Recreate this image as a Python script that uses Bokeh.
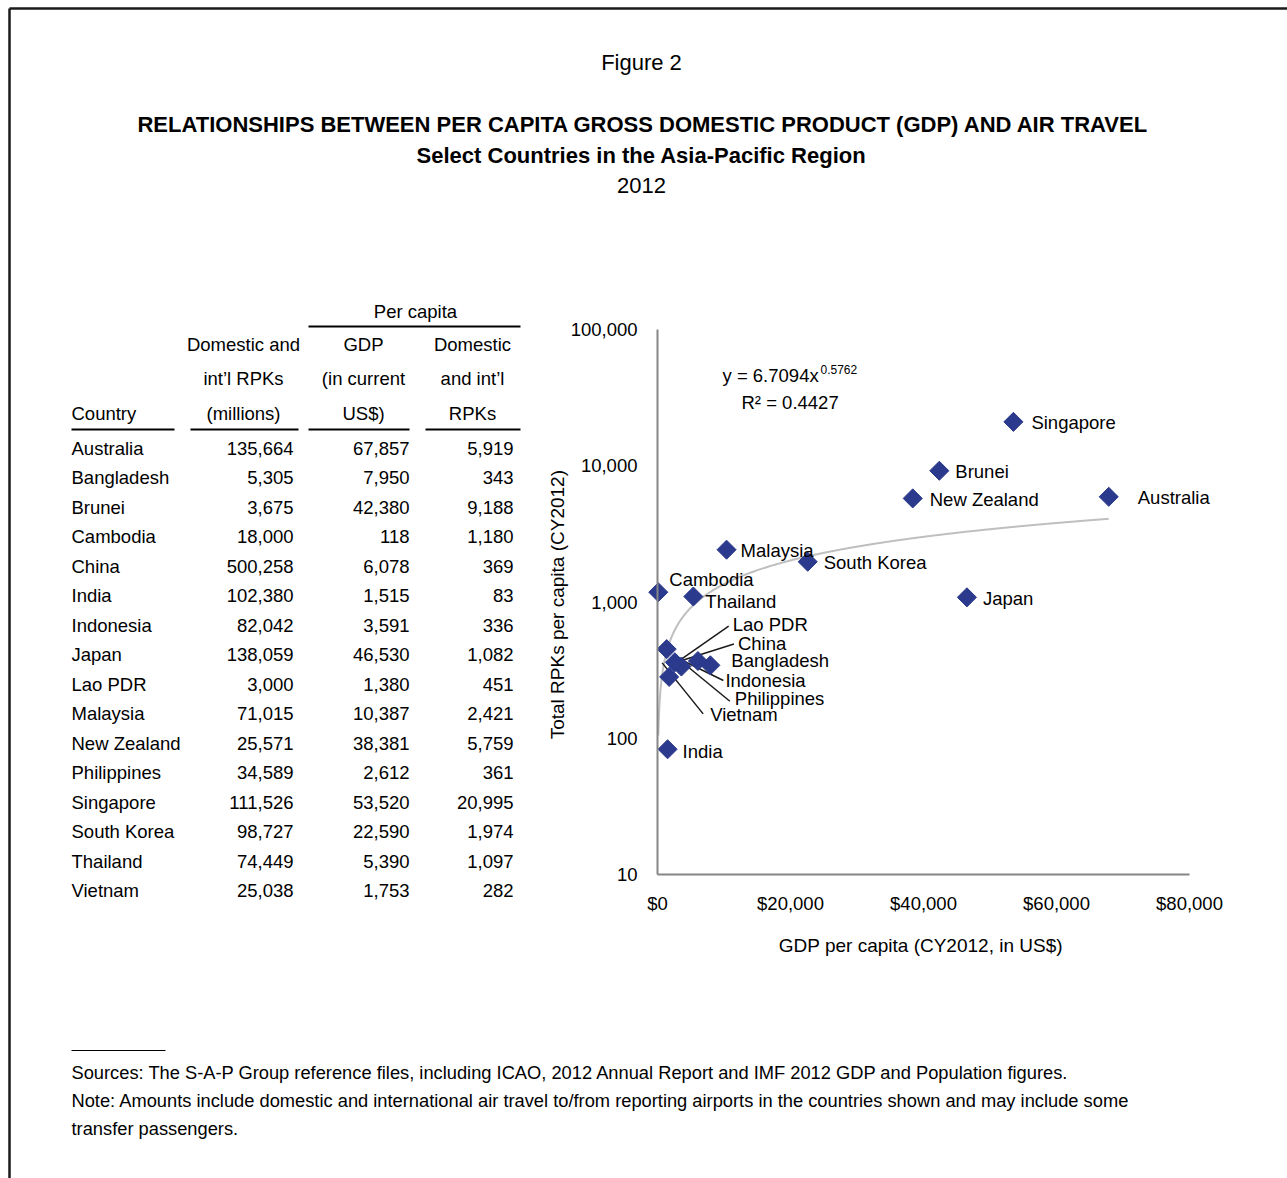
import numpy as np
from bokeh.plotting import figure
from bokeh.models import (Range1d, FixedTicker, NumeralTickFormatter, LinearAxis,
                          LogAxis, LinearScale)
from bokeh.embed import file_html
from bokeh.resources import INLINE
from bokeh.core.properties import value

# ---------------- data ----------------
countries = ["Australia", "Bangladesh", "Brunei", "Cambodia", "China", "India",
             "Indonesia", "Japan", "Lao PDR", "Malaysia", "New Zealand",
             "Philippines", "Singapore", "South Korea", "Thailand", "Vietnam"]
rpk_millions = [135664, 5305, 3675, 18000, 500258, 102380, 82042, 138059,
                3000, 71015, 25571, 34589, 111526, 98727, 74449, 25038]
gdp_per_capita = [67857, 7950, 42380, 118, 6078, 1515, 3591, 46530,
                  1380, 10387, 38381, 2612, 53520, 22590, 5390, 1753]
rpk_per_capita = [5919, 343, 9188, 1180, 369, 83, 336, 1082,
                  451, 2421, 5759, 361, 20995, 1974, 1097, 282]

trend_a = 6.7094
trend_b = 0.5762
r_squared = 0.4427

x_ticks = [0, 20000, 40000, 60000, 80000]
y_ticks = [10, 100, 1000, 10000, 100000]
x_min, x_max = 0, 80000
y_min, y_max = 10, 100000

# label placement (screen pixel offsets from each point) -- styling only
label_dx = {"Australia": 29, "Bangladesh": 21, "Brunei": 16, "Cambodia": 11, "China": 40,
            "India": 15, "Indonesia": 44, "Japan": 16, "Lao PDR": 66, "Malaysia": 14,
            "New Zealand": 17, "Philippines": 60, "Singapore": 18, "South Korea": 16,
            "Thailand": 12, "Vietnam": 41}
label_dy = {"Australia": 1, "Bangladesh": -5, "Brunei": 1, "Cambodia": -13, "China": -17,
            "India": 2, "Indonesia": 14, "Japan": 1, "Lao PDR": -25, "Malaysia": 1,
            "New Zealand": 1, "Philippines": 36, "Singapore": 1, "South Korea": 1,
            "Thailand": 5, "Vietnam": 38}
# leader lines: (start dx, start dy, end dx, end dy) in pixels from the point
leaders = {"Lao PDR": (62, -23, 9, 14), "China": (36, -17, -24, 2),
           "Indonesia": (42, 14, -9, -11), "Philippines": (55, 39, -1, -7),
           "Vietnam": (34, 37, -7, -14)}

FONT = "'Liberation Sans', Arial, sans-serif"
NAVY = "#2B3A8C"
W, H = 1287, 1178

# plot-area placement on the page (pixels)
PL, PR, PT, PB = 657, 1189, 329, 874
px_per_x = (PR - PL) / (x_max - x_min)
px_per_dec = (PB - PT) / (np.log10(y_max) - np.log10(y_min))

xr = Range1d(x_min - PL / px_per_x, x_max + (W - PR) / px_per_x)
yr = Range1d(10 ** (np.log10(y_min) - (H - PB) / px_per_dec),
             10 ** (np.log10(y_max) + PT / px_per_dec))

p = figure(width=W, height=H, x_range=xr, y_range=yr, y_axis_type="log",
           x_axis_location=None, y_axis_location=None, min_border=0,
           output_backend="svg", toolbar_location=None)
p.grid.visible = False
p.outline_line_color = None
p.background_fill_color = "white"
p.border_fill_color = "white"
p.extra_x_ranges = {"px": Range1d(0, W)}
p.extra_y_ranges = {"px": Range1d(H, 0)}
p.extra_x_scales = {"px": LinearScale()}
p.extra_y_scales = {"px": LinearScale()}
PX = dict(x_range_name="px", y_range_name="px")


def txt(x, y, t, size="18.5px", align="left", bold=False):
    p.text(x=[x], y=[y], text=[t], text_font=value(FONT), text_font_size=size,
           text_align=align, text_baseline="middle", text_color="black",
           text_font_style="bold" if bold else "normal", **PX)


# ---------------- page border ----------------
p.segment(x0=[9, 9], y0=[8, 8], x1=[9, W], y1=[H, 8], line_color="#1a1a1a",
          line_width=2.5, **PX)

# ---------------- titles ----------------
txt(641, 62, "Figure 2", size="22px", align="center")
txt(643, 124, "RELATIONSHIPS BETWEEN PER CAPITA GROSS DOMESTIC PRODUCT (GDP) AND AIR TRAVEL",
    size="22px", align="center", bold=True)
txt(641, 155, "Select Countries in the Asia-Pacific Region", size="22px", align="center", bold=True)
txt(641, 185, "2012", size="22px", align="center")

# ---------------- table ----------------
txt(415, 311, "Per capita", align="center")
p.segment(x0=[308], y0=[326], x1=[520], y1=[326], line_color="black", line_width=2, **PX)
hdr = [(243, ["Domestic and", "int\u2019l RPKs", "(millions)"]),
       (363, ["GDP", "(in current", "US$)"]),
       (472, ["Domestic", "and int\u2019l", "RPKs"])]
for cx, lines in hdr:
    for yy, t in zip([344, 378, 413], lines):
        txt(cx, yy, t, align="center")
txt(71, 413, "Country")
p.segment(x0=[71, 190, 308, 425], y0=[429] * 4, x1=[174, 298, 409, 520], y1=[429] * 4,
          line_color="black", line_width=2, **PX)
row_y = [448 + i * 29.47 for i in range(len(countries))]
p.text(x=[71] * len(countries), y=row_y, text=countries, text_font=value(FONT),
       text_font_size="18.5px", text_baseline="middle", text_align="left", **PX)
for col_x, vals in [(293, rpk_millions), (409, gdp_per_capita), (513, rpk_per_capita)]:
    p.text(x=[col_x] * len(vals), y=row_y, text=[f"{v:,}" for v in vals],
           text_font=value(FONT), text_font_size="18.5px", text_baseline="middle",
           text_align="right", **PX)

# ---------------- scatter axes ----------------
yax = LogAxis(fixed_location=0, bounds=(y_min, y_max), ticker=FixedTicker(ticks=y_ticks, minor_ticks=[]),
              formatter=NumeralTickFormatter(format="0,0"))
xax = LinearAxis(fixed_location=y_min, bounds=(x_min, x_max), ticker=FixedTicker(ticks=x_ticks, minor_ticks=[]),
                 formatter=NumeralTickFormatter(format="$0,0"))
for ax in (xax, yax):
    ax.axis_line_color = "#868686"
    ax.axis_line_width = 2
    ax.major_tick_line_color = None
    ax.minor_tick_line_color = None
    ax.major_label_text_font = FONT
    ax.major_label_text_font_size = "18.5px"
    ax.major_label_text_color = "black"
    ax.axis_label_text_font = FONT
    ax.axis_label_text_font_size = "19px"
    ax.axis_label_text_font_style = "normal"
    ax.axis_label_text_color = "black"
xax.major_label_standoff = 12
xax.axis_label = "GDP per capita  (CY2012, in US$)"
xax.axis_label_standoff = 18
yax.major_label_standoff = 14
yax.axis_label = "Total RPKs per capita  (CY2012)"
yax.axis_label_standoff = 0
p.add_layout(yax, "left")
p.add_layout(xax, "below")

# trend line (power fit shown on the chart)
xf = np.linspace(min(gdp_per_capita), max(gdp_per_capita), 600)
p.line(xf, trend_a * xf ** trend_b, line_color="#BFBFBF", line_width=2)

# leader lines
lx0, ly0, lx1, ly1 = [], [], [], []
for name, (sdx, sdy, edx, edy) in leaders.items():
    i = countries.index(name)
    gx, gy = gdp_per_capita[i], rpk_per_capita[i]
    lx0.append(gx + sdx / px_per_x)
    ly0.append(gy * 10 ** (-sdy / px_per_dec))
    lx1.append(gx + edx / px_per_x)
    ly1.append(gy * 10 ** (-edy / px_per_dec))
p.segment(x0=lx0, y0=ly0, x1=lx1, y1=ly1, line_color="#1a1a1a", line_width=1.5)

p.scatter(gdp_per_capita, rpk_per_capita, marker="square", angle=np.pi / 4, size=13.5,
          fill_color=NAVY, line_color=NAVY)

p.text(x=gdp_per_capita, y=rpk_per_capita, text=countries,
       x_offset=[label_dx[c] for c in countries], y_offset=[label_dy[c] for c in countries],
       text_font=value(FONT), text_font_size="18.5px", text_baseline="middle",
       text_align="left", text_color="black")

# trend equation
txt(722, 375, f"y = {trend_a}x")
txt(820, 369, f"{trend_b}", size="12px")
txt(741, 402, f"R\u00b2 = {r_squared}")

# ---------------- footnotes ----------------
p.segment(x0=[71], y0=[1050], x1=[165], y1=[1050], line_color="black", line_width=1, **PX)
txt(71, 1072, "Sources:  The S-A-P Group reference files, including ICAO, 2012 Annual Report and IMF 2012 GDP and Population figures.", size="18.3px")
txt(71, 1100, "Note:  Amounts include domestic and international air travel to/from reporting airports in the countries shown and may include some", size="18.3px")
txt(71, 1128, "transfer passengers.", size="18.3px")

open("out.html", "w").write(file_html(p, INLINE))
